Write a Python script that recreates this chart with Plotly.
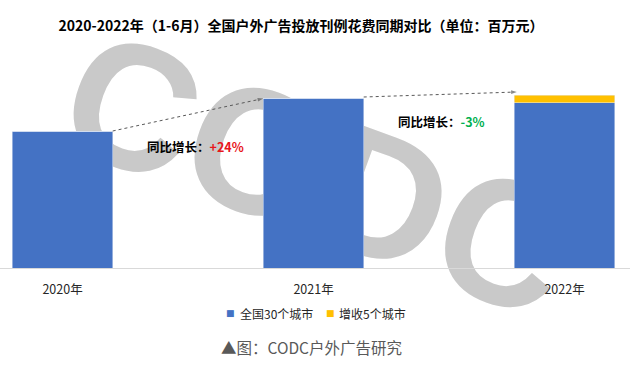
import plotly.graph_objects as go

# ---- data ----
years = ["2020年", "2021年", "2022年"]
series_names = ["全国30个城市", "增收5个城市"]
national_30 = [137, 170, 165.5]
new_5 = [0, 0, 7.5]
colors = ["#4472C4", "#FFC000"]
growth_labels = ["+24%", "-3%"]
growth_colors = ["#E8161B", "#00B050"]

FONT = "Noto Sans CJK SC"
W, H = 630, 371
PLOT_TOP, PLOT_BOTTOM = 40, 268
BAR_W = 0.40

def px_to_paper_y(py):
    return (PLOT_BOTTOM - py) / (PLOT_BOTTOM - PLOT_TOP)

xs = list(range(len(years)))
fig = go.Figure()
fig.add_trace(go.Bar(x=xs, y=national_30, name=series_names[0], marker_color=colors[0],
                     width=BAR_W, showlegend=False, hoverinfo="skip"))
fig.add_trace(go.Bar(x=xs, y=new_5, name=series_names[1], marker_color=colors[1],
                     width=BAR_W, showlegend=False, hoverinfo="skip"))

totals = [a + b for a, b in zip(national_30, new_5)]

# dotted arrows between bar tops
arrow_pairs = [
    ((xs[0] + BAR_W / 2, national_30[0]), (xs[1] - BAR_W / 2, national_30[1] - 0.5)),
    ((xs[1] + BAR_W / 2, national_30[1] + 1), (xs[2] - BAR_W / 2 + 0.01, totals[2] + 3)),
]
for (x0, y0), (x1, y1) in arrow_pairs:
    fig.add_trace(go.Scatter(
        x=[x0, x1], y=[y0, y1], mode="lines+markers",
        line=dict(color="#595959", width=1, dash="dot"),
        marker=dict(symbol=["circle", "arrow"], size=[0, 6], angleref="previous",
                    color="#595959", line=dict(width=0)),
        showlegend=False, hoverinfo="skip"))

annotations = []
# growth labels
growth_pos = [(0.528, 122), (1.51, 147)]
for (gx, gy), lab, col in zip(growth_pos, growth_labels, growth_colors):
    annotations.append(dict(
        x=gx, y=gy, xref="x", yref="y", showarrow=False, xanchor="center", yanchor="middle",
        text=f"<b>同比增长：</b><b><span style='color:{col}'>{lab}</span></b>",
        font=dict(family=FONT, size=12.5, color="#000000")))

# custom legend
leg_y = px_to_paper_y(313)
leg_items = [(231, 238), (330, 337)]
for (sq_x, tx_x), name, col in zip(leg_items, series_names, colors):
    annotations.append(dict(x=sq_x / W, y=leg_y, xref="paper", yref="paper", showarrow=False,
                            xanchor="center", yanchor="middle", text="■",
                            font=dict(family="DejaVu Sans", size=9, color=col)))
    annotations.append(dict(x=tx_x / W, y=leg_y, xref="paper", yref="paper", showarrow=False,
                            xanchor="left", yanchor="middle", text=name,
                            font=dict(family=FONT, size=12, color="#262626")))

# caption
annotations.append(dict(x=311.5 / W, y=px_to_paper_y(347), xref="paper", yref="paper",
                        showarrow=False, xanchor="center", yanchor="middle",
                        text="▲图：CODC户外广告研究",
                        font=dict(family=FONT, size=15.5, color="#595959")))

# watermark (below bars)
cx, cy = 324 / W, px_to_paper_y(158)
shapes = [dict(type="rect", xref="paper", yref="paper", layer="below",
               x0=cx - 0.3, x1=cx + 0.3, y0=cy - 0.3, y1=cy + 0.3,
               line=dict(width=0), fillcolor="rgba(0,0,0,0)",
               label=dict(text="CODC", textangle=20, textposition="middle center",
                          font=dict(family="Liberation Sans", size=178, color="#C9C9C9",
                                    weight="bold")))]

fig.update_layout(
    width=W, height=H,
    margin=dict(l=0, r=0, t=PLOT_TOP, b=H - PLOT_BOTTOM),
    paper_bgcolor="white", plot_bgcolor="rgba(0,0,0,0)",
    barmode="stack",
    title=dict(text="<b>2020-2022年（1-6月）全国户外广告投放刊例花费同期对比（单位：百万元）</b>",
               x=301 / W, xanchor="center", y=1 - 26 / H, yanchor="middle",
               font=dict(family=FONT, size=14, color="#000000")),
    xaxis=dict(range=[-62.5 / 251, (W - 62.5) / 251], tickvals=xs, ticktext=years,
               showgrid=False, zeroline=False, showline=True, linecolor="#D9D9D9", linewidth=1,
               ticks="", ticklabelstandoff=10,
               tickfont=dict(family=FONT, size=12.5, color="#262626")),
    yaxis=dict(range=[0, PLOT_BOTTOM - PLOT_TOP], visible=False, showgrid=False, zeroline=False),
    annotations=annotations,
    shapes=shapes,
    showlegend=False,
)

fig.write_html("out.html", config={"displayModeBar": False},
               post_script="document.body.style.margin='0';document.body.style.padding='0';")
